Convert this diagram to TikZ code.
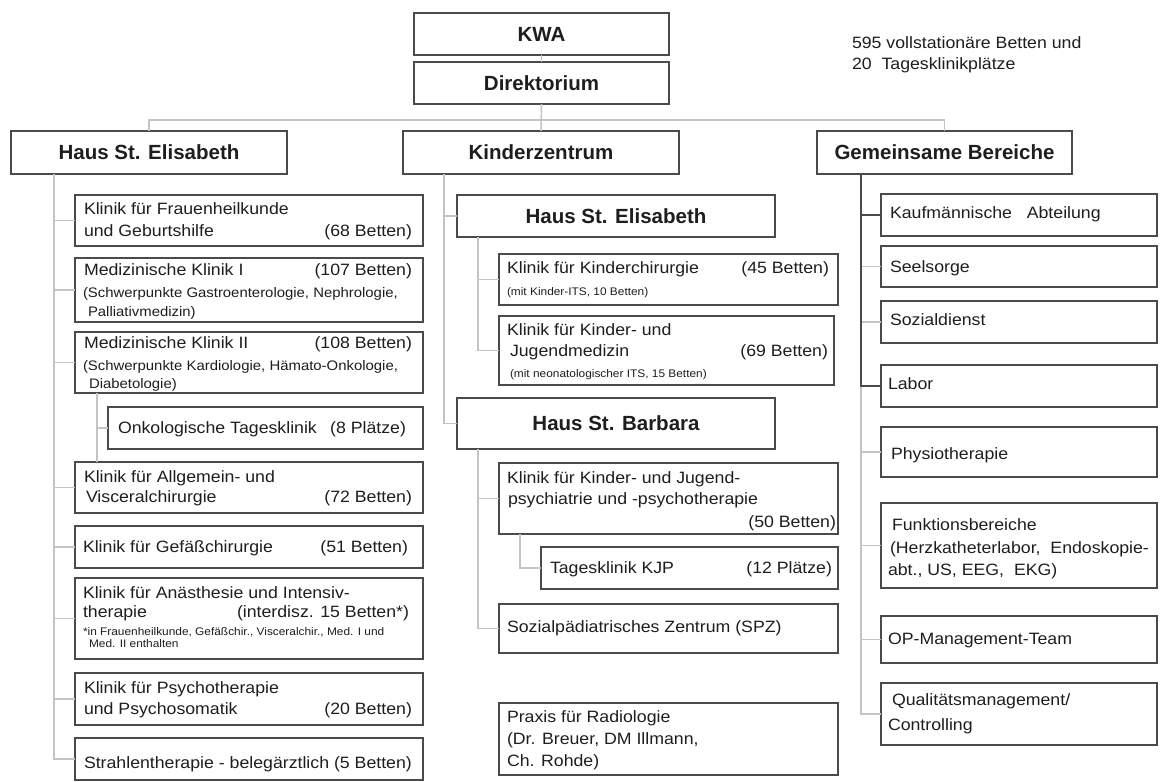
\documentclass[tikz,border=0pt]{standalone}
\usepackage{fontspec}
\setmainfont{Liberation Sans}
\newfontfamily\rgfont{Liberation Sans}[FakeStretch=1.08]
\definecolor{boxc}{HTML}{4A4A4A}
\definecolor{txtc}{HTML}{1E1E1E}
\definecolor{lightc}{HTML}{C4C4C4}
\definecolor{darkc}{HTML}{4A4A4A}
\tikzset{
  box/.style={draw=boxc, line width=1.3pt, inner sep=0pt, outer sep=0pt, anchor=north west},
  lt/.style={line width=1.5pt, draw=lightc},
  dk/.style={line width=1.5pt, draw=darkc},
  txt/.style={inner sep=0pt, outer sep=0pt, text depth=0pt, text=txtc},
  rg/.style={txt, text height=11.7pt, font=\rgfont\fontsize{16.4}{18}\selectfont},
  sm/.style={txt, text height=9.9pt, font=\rgfont\fontsize{13.8}{15}\selectfont},
  tn/.style={txt, text height=7.9pt, font=\rgfont\fontsize{11}{12}\selectfont},
  hd/.style={font=\bfseries\fontsize{20.5}{24}\selectfont, text=txtc, text height=14.7pt, text depth=0pt},
}
\newcommand\bx[7][]{\node[box,#1,minimum width={(#4-#2)*1pt},minimum height={(#5-#3)*1pt}] (#6) at (#2,#3) {#7};}
\newcommand\tl[5][rg]{\node[#1,anchor=west] (#2) at (#3,#4) {#5};}
\newcommand\tr[5][rg]{\node[#1,anchor=east] (#2) at (#3,#4) {#5};}
\begin{document}
\begin{tikzpicture}[x=1pt,y=-1pt]
\useasboundingbox[fill=white] (0,0) rectangle (1160,782);
% top
\bx[hd]{414}{13}{669}{55}{kwa}{KWA}
\bx[hd]{414}{62}{669}{104}{dir}{Direktorium}
\bx[hd]{11}{131}{287}{174}{hse}{Haus St. Elisabeth}
\bx[hd]{403}{131}{679}{174}{kz}{Kinderzentrum}
\bx[hd]{817}{131}{1072}{174}{gb}{Gemeinsame Bereiche}
\tl{info1}{852}{43}{595 vollstationäre Betten und}
\tl{info2}{852}{64}{20\ \ Tagesklinikplätze}
\draw[lt] (kwa.south) -- (dir.north);
\draw[lt] (dir.south) -- (kz.north);
\draw[lt] (hse.north) -- ++(0,-11) -| (gb.north);
% left column
\bx{75}{195}{423}{246}{frau}{}
\bx{75}{258}{423}{322}{med1}{}
\bx{75}{332}{423}{393}{med2}{}
\bx{108}{407}{423}{449}{onk}{}
\bx{75}{462}{423}{513}{allg}{}
\bx{75}{526}{423}{568}{gef}{}
\bx{75}{578}{423}{659}{anae}{}
\bx{75}{673}{423}{725}{psy}{}
\bx{75}{738}{423}{780}{str}{}
\coordinate (tL) at ([xshift=43pt]hse.south west);
\draw[lt] (tL) |- (str.west);
\foreach \n in {frau,med1,med2,allg,gef,anae,psy} \draw[lt] (\n.west -| tL) -- (\n.west);
\coordinate (tM) at ([xshift=22pt]med2.south west);
\draw[lt] (tM) -- (tM |- allg.north);
\draw[lt] (onk.west -| tM) -- (onk.west);
\tl{a1}{84}{209}{Klinik für Frauenheilkunde}
\tl{a2}{84}{231}{und Geburtshilfe}
\tr{a3}{412}{231}{(68 Betten)}
\tl{b1}{84}{270}{Medizinische Klinik I}
\tr{b2}{412}{270}{(107 Betten)}
\tl[sm]{b3}{83}{293}{(Schwerpunkte Gastroenterologie, Nephrologie,}
\tl[sm]{b4}{88}{312}{Palliativmedizin)}
\tl{c1}{84}{343}{Medizinische Klinik II}
\tr{c2}{412}{343}{(108 Betten)}
\tl[sm]{c3}{83}{366}{\makebox[315pt][s]{(Schwerpunkte Kardiologie, Hämato-Onkologie,}}
\tl[sm]{c4}{89}{384}{Diabetologie)}
\tl{d1}{118}{428}{Onkologische Tagesklinik}
\tr{d2}{406}{428}{(8 Plätze)}
\tl{e1}{84}{477}{Klinik für Allgemein- und}
\tl{e2}{86}{497}{Visceralchirurgie}
\tr{e3}{412}{497}{(72 Betten)}
\tl{f1}{83}{547}{Klinik für Gefäßchirurgie}
\tr{f2}{408}{547}{(51 Betten)}
\tl{g1}{83}{593}{Klinik für Anästhesie und Intensiv-}
\tl{g2}{83}{612}{therapie}
\tr{g3}{409}{612}{(interdisz. 15 Betten*)}
\tl[tn]{g4}{83}{632}{*in Frauenheilkunde, Gefäßchir., Visceralchir., Med. I und}
\tl[tn]{g5}{89}{644}{Med. II enthalten}
\tl{h1}{84}{688}{Klinik für Psychotherapie}
\tl{h2}{84}{709}{und Psychosomatik}
\tr{h3}{412}{709}{(20 Betten)}
\tl{i1}{84}{763}{Strahlentherapie - belegärztlich (5 Betten)}
% Kinderzentrum
\bx[hd]{457}{195}{775}{237}{kse}{Haus St. Elisabeth}
\bx[hd]{457}{398}{775}{449}{ksb}{Haus St. Barbara}
\bx{499}{254}{838}{305}{kch}{}
\bx{499}{316}{834}{385}{kjm}{}
\bx{499}{463}{838}{534}{kjpp}{}
\bx{541}{547}{838}{589}{tkjp}{}
\bx{499}{604}{838}{653}{spz}{}
\bx{499}{703}{838}{775}{prx}{}
\coordinate (tK) at ([xshift=41pt]kz.south west);
\draw[lt] (tK) |- (ksb.west);
\draw[lt] (kse.west -| tK) -- (kse.west);
\coordinate (tKE) at ([xshift=21pt]kse.south west);
\draw[lt] (tKE) |- (kjm.west);
\draw[lt] (kch.west -| tKE) -- (kch.west);
\coordinate (tKB) at ([xshift=21pt]ksb.south west);
\draw[lt] (tKB) |- (spz.west);
\draw[lt] (kjpp.west -| tKB) -- (kjpp.west);
\coordinate (tKP) at ([xshift=21pt]kjpp.south west);
\draw[lt] (tKP) |- (tkjp.west);
\tl{k1}{507}{268}{Klinik für Kinderchirurgie}
\tr{k2}{829}{268}{(45 Betten)}
\tl[tn]{k3}{507}{292}{(mit Kinder-ITS, 10 Betten)}
\tl{l1}{507}{330}{Klinik für Kinder- und}
\tl{l2}{510}{351}{Jugendmedizin}
\tr{l3}{828}{351}{(69 Betten)}
\tl[tn]{l4}{510}{374}{(mit neonatologischer ITS, 15 Betten)}
\tl{m1}{507}{478}{Klinik für Kinder- und Jugend-}
\tl{m2}{508}{499}{psychiatrie und -psychotherapie}
\tr{m3}{836}{522}{(50 Betten)}
\tl{n1}{550}{568}{Tagesklinik KJP}
\tr{n2}{832}{568}{(12 Plätze)}
\tl{o1}{507}{627}{Sozialpädiatrisches Zentrum (SPZ)}
\tl{p1}{507}{717}{Praxis für Radiologie}
\tl{p2}{507}{739}{(Dr. Breuer, DM Illmann,}
\tl{p3}{507}{761}{Ch. Rohde)}
% Gemeinsame Bereiche
\bx{881}{194}{1157}{236}{kauf}{}
\bx{881}{246}{1157}{287}{seel}{}
\bx{881}{301}{1157}{343}{soz}{}
\bx{881}{365}{1157}{407}{lab}{}
\bx{881}{427}{1157}{477}{phys}{}
\bx{881}{503}{1157}{588}{funk}{}
\bx{881}{616}{1157}{663}{opm}{}
\bx{881}{683}{1157}{745}{qm}{}
\coordinate (tG) at ([xshift=44pt]gb.south west);
\draw[lt] (lab.west -| tG) |- (qm.west);
\foreach \n in {seel,soz,phys,funk,opm} \draw[lt] (\n.west -| tG) -- (\n.west);
\draw[dk] (tG) |- (lab.west);
\draw[dk] (kauf.west -| tG) -- (kauf.west);
\tl{q1}{890}{213}{Kaufmännische\hspace{0.9em}Abteilung}
\tl{q2}{890}{267}{Seelsorge}
\tl{q3}{890}{320}{Sozialdienst}
\tl{q4}{888}{384}{Labor}
\tl{q5}{891}{454}{Physiotherapie}
\tl{q6}{892}{525}{Funktionsbereiche}
\tl{q7}{890}{548}{(Herzkatheterlabor,\ \ Endoskopie-}
\tl{q8}{888}{570}{abt., US, EEG,\ \ EKG)}
\tl{q9}{888}{639}{OP-Management-Team}
\tl{q10}{892}{700}{Qualitätsmanagement/}
\tl{q11}{888}{725}{Controlling}
\end{tikzpicture}
\end{document}
